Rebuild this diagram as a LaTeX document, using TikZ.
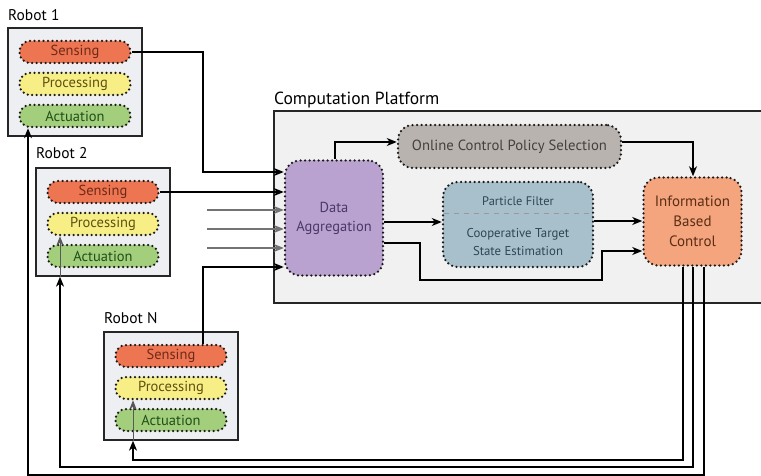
\documentclass[tikz,border=0pt]{standalone}
\usepackage{fontspec}
\setmainfont{PT Sans}
\usetikzlibrary{arrows.meta,calc}

\definecolor{senseC}{HTML}{EE7552}
\definecolor{senseT}{HTML}{6E2A18}
\definecolor{procC}{HTML}{F7EE86}
\definecolor{procT}{HTML}{5E5010}
\definecolor{actC}{HTML}{A3CE7C}
\definecolor{actT}{HTML}{1F4F1A}
\definecolor{aggC}{HTML}{B9A2CF}
\definecolor{aggT}{HTML}{4A3868}
\definecolor{polC}{HTML}{B8B3AE}
\definecolor{polT}{HTML}{45403C}
\definecolor{pfC}{HTML}{A8C0CC}
\definecolor{pfT}{HTML}{2E4554}
\definecolor{ibcC}{HTML}{F4A57E}
\definecolor{ibcT}{HTML}{5A2E14}
\definecolor{boxC}{HTML}{EEEFF2}
\definecolor{platC}{HTML}{F1F1F1}

\begin{document}
\begin{tikzpicture}[x=1pt,y=-1pt,
  font=\fontsize{14.5}{17}\selectfont,
  robotbox/.style={draw=black!85, line width=1.3pt, fill=boxC,
    minimum width=134pt, minimum height=108pt, inner sep=0pt},
  dotbox/.style={draw=black!90, line width=2.5pt, dash pattern=on 0pt off 4.5pt,
    line cap=round, inner sep=0pt, align=center},
  pill/.style={dotbox, rounded corners=10.5pt, minimum width=111pt, minimum height=22pt},
  sensepill/.style={pill, fill=senseC, text=senseT},
  procpill/.style={pill, fill=procC, text=procT},
  actpill/.style={pill, fill=actC, text=actT},
  block/.style={dotbox, rounded corners=15pt},
  lbl/.style={anchor=west, inner sep=0pt, font=\fontsize{15.5}{18}\selectfont},
  arr/.style={line width=1.4pt, -{Stealth[length=10pt,width=8pt,inset=3pt]}},
  thinarr/.style={line width=1pt, draw=black!65, -{Stealth[length=9pt,width=7pt,inset=2.5pt]}},
  grayarr/.style={line width=1.1pt, draw=black!55, -{Stealth[length=10pt,width=8pt,inset=3pt]}}
]
\useasboundingbox (0,0) rectangle (761,476);
\fill[white] (0,0) rectangle (761,476);

% ---- computation platform ----
\node[lbl, font=\fontsize{17.5}{20}\selectfont] (platlbl) at (274,100) {Computation Platform};
\draw[line width=1.3pt, draw=black!85, fill=platC] (274,111) rectangle (770,303);

% ---- robots ----
\node[lbl] (r1lbl) at (8,15) {Robot 1};
\node[robotbox] (r1) at (75,82) {};
\node[sensepill] (s1) at ($(r1.center)+(0,-30)$) {Sensing};
\node[procpill]  (p1) at ($(r1.center)+(0,2)$) {Processing};
\node[actpill]   (a1) at ($(r1.center)+(0,34)$) {Actuation};

\node[lbl] (r2lbl) at (36,153) {Robot 2};
\node[robotbox] (r2) at (103,222) {};
\node[sensepill] (s2) at ($(r2.center)+(0,-30)$) {Sensing};
\node[procpill]  (p2) at ($(r2.center)+(0,2)$) {Processing};
\node[actpill]   (a2) at ($(r2.center)+(0,34)$) {Actuation};

\node[lbl] (rnlbl) at (104,318) {Robot N};
\node[robotbox] (rn) at (171,386) {};
\node[sensepill] (sn) at ($(rn.center)+(0,-30)$) {Sensing};
\node[procpill]  (pn) at ($(rn.center)+(0,2)$) {Processing};
\node[actpill]   (an) at ($(rn.center)+(0,34)$) {Actuation};

% ---- processing blocks ----
\node[block, fill=aggC, text=aggT, minimum width=98pt, minimum height=115pt,
  font=\fontsize{14.5}{19}\selectfont] (da) at (334,218) {Data\\Aggregation};
\node[block, fill=polC, text=polT, minimum width=223pt, minimum height=43pt,
  font=\fontsize{14.7}{17}\selectfont] (ocps) at (509.5,146.5) {Online Control Policy Selection};
\node[block, fill=pfC, minimum width=150pt, minimum height=85pt] (pf) at (518,224.5) {};
\node[text=pfT, font=\fontsize{12.4}{15}\selectfont] (pft) at (518,201) {Particle Filter};
\node[text=pfT, font=\fontsize{12.8}{18}\selectfont, align=center] (cte) at (518,242) {Cooperative Target\\State Estimation};
\draw[black!40, line width=0.8pt, dash pattern=on 5pt off 5pt]
  ($(pf.west)+(2,-11)$) -- ($(pf.east)+(-2,-11)$);
\node[block, fill=ibcC, text=ibcT, minimum width=98pt, minimum height=88pt,
  font=\fontsize{15}{20}\selectfont] (ibc) at (692.5,221.5) {Information\\Based\\Control};

% ---- sensing data into aggregation ----
\coordinate (j1) at (203,172);
\draw[arr] (s1.east) -| (j1) -- (da.west |- j1);
\draw[arr] (s2.east) -- (da.west |- s2.east);
\coordinate (g1) at (207,210);
\coordinate (g2) at (207,229);
\coordinate (g3) at (207,248);
\draw[grayarr] (g1) -- (da.west |- g1);
\draw[grayarr] (g2) -- (da.west |- g2);
\draw[grayarr] (g3) -- (da.west |- g3);
\coordinate (jn) at (203,267);
\draw[arr] (sn.north -| jn) -- (jn) -- (da.west |- jn);

% ---- inside the platform ----
\coordinate (up) at (335,142);
\draw[arr] (da.north -| up) -- (up) -- (ocps.west |- up);
\coordinate (dn) at (693,142);
\draw[arr] (ocps.east |- dn) -- (dn) -- (ibc.north -| dn);
\draw[arr] (da.east |- 0,222) -- (pf.west |- 0,222);
\draw[arr] (pf.east |- 0,221) -- (ibc.west |- 0,221);
\coordinate (b1) at (420,243);
\coordinate (b2) at (420,280);
\coordinate (b3) at (602,280);
\coordinate (b4) at (602,251);
\draw[arr] (da.east |- b1) -- (b1) -- (b2) -- (b3) -- (b4) -- (ibc.west |- b4);

% ---- control commands back to the robots ----
\coordinate (cN) at (683,460);
\coordinate (c2) at (693,467);
\coordinate (c1) at (704,475);
\draw[arr] (ibc.south -| cN) -- (cN) -- (133,0 |- cN) -- (rn.south -| 133,0);
\draw[thinarr] (rn.south -| 133,0) -- (pn.south -| 133,0);
\draw[arr] (ibc.south -| c2) -- (c2) -- (60,0 |- c2) -- (r2.south -| 60,0);
\draw[thinarr] (r2.south -| 60,0) -- (p2.south -| 60,0);
\draw[arr] (ibc.south -| c1) -- (c1) -- (28,0 |- c1) -- (a1.south -| 28,0);
\end{tikzpicture}
\end{document}
